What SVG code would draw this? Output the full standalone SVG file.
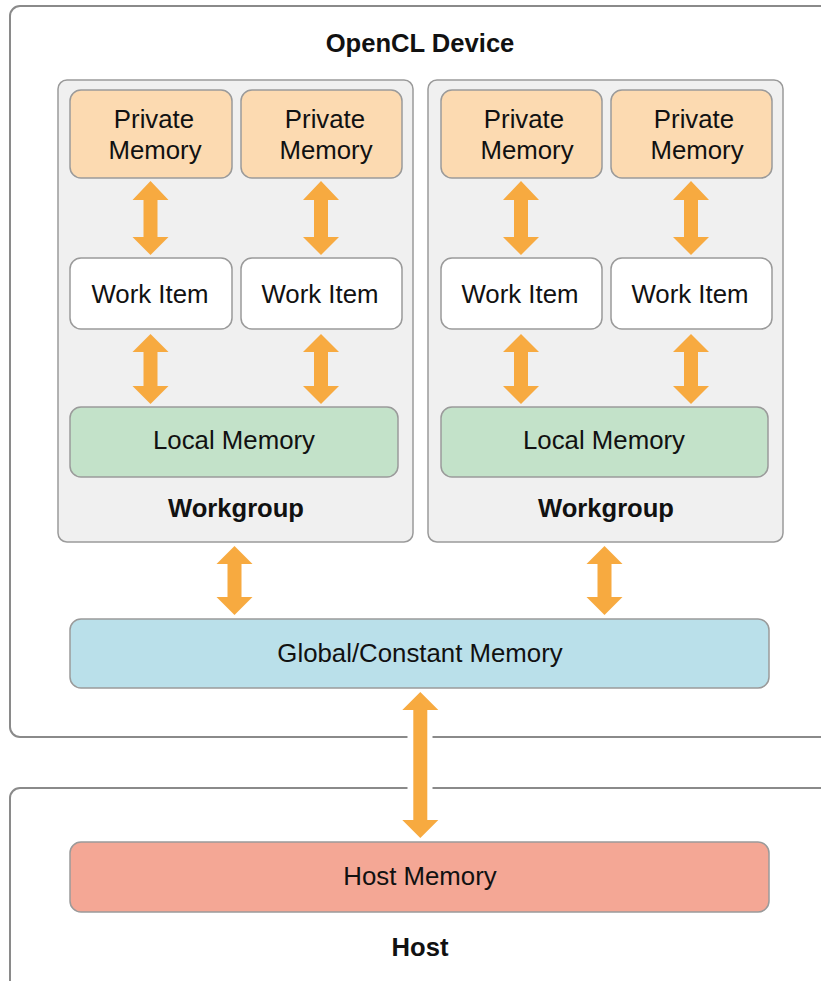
<svg xmlns="http://www.w3.org/2000/svg" width="821" height="981" viewBox="0 0 821 981">
  <style>
    .frame { fill: #ffffff; stroke: #8a8a8a; stroke-width: 2; }
    .group { fill: #f0f0f0; stroke: #9a9a9a; stroke-width: 1.5; }
    .private { fill: #fcdab1; stroke: #9a9a9a; stroke-width: 1.5; }
    .item { fill: #ffffff; stroke: #9a9a9a; stroke-width: 1.5; }
    .local { fill: #c3e2c9; stroke: #9a9a9a; stroke-width: 1.5; }
    .global { fill: #bae0ea; stroke: #9a9a9a; stroke-width: 1.5; }
    .hostmem { fill: #f4a795; stroke: #9a9a9a; stroke-width: 1.5; }
    .arrow { fill: #f7aa40; }
    text { font-family: "Liberation Sans", Arial, Helvetica, sans-serif; font-size: 25.8px; fill: #111111; text-anchor: middle; }
    .title { font-weight: bold; font-size: 25.6px; }
  </style>

  <rect width="821" height="981" fill="#ffffff"/>

  <!-- OpenCL device frame -->
  <g id="device">
    <rect class="frame" x="10" y="6" width="840" height="731" rx="10"/>
    <text class="title" x="420" y="52">OpenCL Device</text>
  </g>

  <!-- Host frame -->
  <g id="host">
    <rect class="frame" x="10" y="788" width="840" height="230" rx="10"/>
    <text class="title" x="420" y="956">Host</text>
  </g>

  <!-- Workgroup 1 -->
  <g id="workgroup1">
    <rect class="group" x="58" y="80" width="355" height="462" rx="9"/>
    <text class="title" x="236" y="517">Workgroup</text>
  </g>
  <g id="private1">
    <rect class="private" x="70" y="90" width="162" height="88" rx="11"/>
    <text x="154" y="128">Private</text>
    <text x="155" y="159">Memory</text>
  </g>
  <g id="private2">
    <rect class="private" x="241" y="90" width="161" height="88" rx="11"/>
    <text x="325" y="128">Private</text>
    <text x="326" y="159">Memory</text>
  </g>
  <g id="workitem1">
    <rect class="item" x="70" y="258" width="162" height="71" rx="11"/>
    <text x="150" y="303">Work Item</text>
  </g>
  <g id="workitem2">
    <rect class="item" x="241" y="258" width="161" height="71" rx="11"/>
    <text x="320" y="303">Work Item</text>
  </g>
  <g id="local1">
    <rect class="local" x="70" y="407" width="328" height="70" rx="11"/>
    <text x="234" y="449">Local Memory</text>
  </g>

  <!-- Workgroup 2 -->
  <g id="workgroup2">
    <rect class="group" x="428" y="80" width="355" height="462" rx="9"/>
    <text class="title" x="606" y="517">Workgroup</text>
  </g>
  <g id="private3">
    <rect class="private" x="441" y="90" width="161" height="88" rx="11"/>
    <text x="524" y="128">Private</text>
    <text x="527" y="159">Memory</text>
  </g>
  <g id="private4">
    <rect class="private" x="611" y="90" width="161" height="88" rx="11"/>
    <text x="694" y="128">Private</text>
    <text x="697" y="159">Memory</text>
  </g>
  <g id="workitem3">
    <rect class="item" x="441" y="258" width="161" height="71" rx="11"/>
    <text x="520" y="303">Work Item</text>
  </g>
  <g id="workitem4">
    <rect class="item" x="611" y="258" width="161" height="71" rx="11"/>
    <text x="690" y="303">Work Item</text>
  </g>
  <g id="local2">
    <rect class="local" x="441" y="407" width="327" height="70" rx="11"/>
    <text x="604" y="449">Local Memory</text>
  </g>

  <!-- Shared memories -->
  <g id="global">
    <rect class="global" x="70" y="619" width="699" height="69" rx="11"/>
    <text x="420" y="662">Global/Constant Memory</text>
  </g>
  <g id="hostmemory">
    <rect class="hostmem" x="70" y="842" width="699" height="70" rx="11"/>
    <text x="420" y="885">Host Memory</text>
  </g>

  <!-- Connectors: double-headed block arrows -->
  <g id="connectors">
    <!-- private memory <-> work item -->
    <polygon class="arrow" points="150.5,181 168.5,200 157.5,200 157.5,237 168.5,237 150.5,255 132.5,237 143.5,237 143.5,200 132.5,200"/>
    <polygon class="arrow" points="321,181 339,200 328,200 328,237 339,237 321,255 303,237 314,237 314,200 303,200"/>
    <polygon class="arrow" points="521,181 539,200 528,200 528,237 539,237 521,255 503,237 514,237 514,200 503,200"/>
    <polygon class="arrow" points="691,181 709,200 698,200 698,237 709,237 691,255 673,237 684,237 684,200 673,200"/>
    <!-- work item <-> local memory -->
    <polygon class="arrow" points="150.5,334 168.5,352 157.5,352 157.5,386 168.5,386 150.5,404 132.5,386 143.5,386 143.5,352 132.5,352"/>
    <polygon class="arrow" points="321,334 339,352 328,352 328,386 339,386 321,404 303,386 314,386 314,352 303,352"/>
    <polygon class="arrow" points="521,334 539,352 528,352 528,386 539,386 521,404 503,386 514,386 514,352 503,352"/>
    <polygon class="arrow" points="691,334 709,352 698,352 698,386 709,386 691,404 673,386 684,386 684,352 673,352"/>
    <!-- workgroup <-> global memory -->
    <polygon class="arrow" points="234.5,546 252.5,564 241.5,564 241.5,597 252.5,597 234.5,615 216.5,597 227.5,597 227.5,564 216.5,564"/>
    <polygon class="arrow" points="604.5,546 622.5,564 611.5,564 611.5,597 622.5,597 604.5,615 586.5,597 597.5,597 597.5,564 586.5,564"/>
    <!-- global memory <-> host memory, breaking the frame borders -->
    <rect x="407.5" y="728" width="25" height="68" fill="#ffffff"/>
    <polygon class="arrow" points="420.3,692 438.3,710 427.3,710 427.3,820 438.3,820 420.3,838 402.3,820 413.3,820 413.3,710 402.3,710"/>
  </g>
</svg>
